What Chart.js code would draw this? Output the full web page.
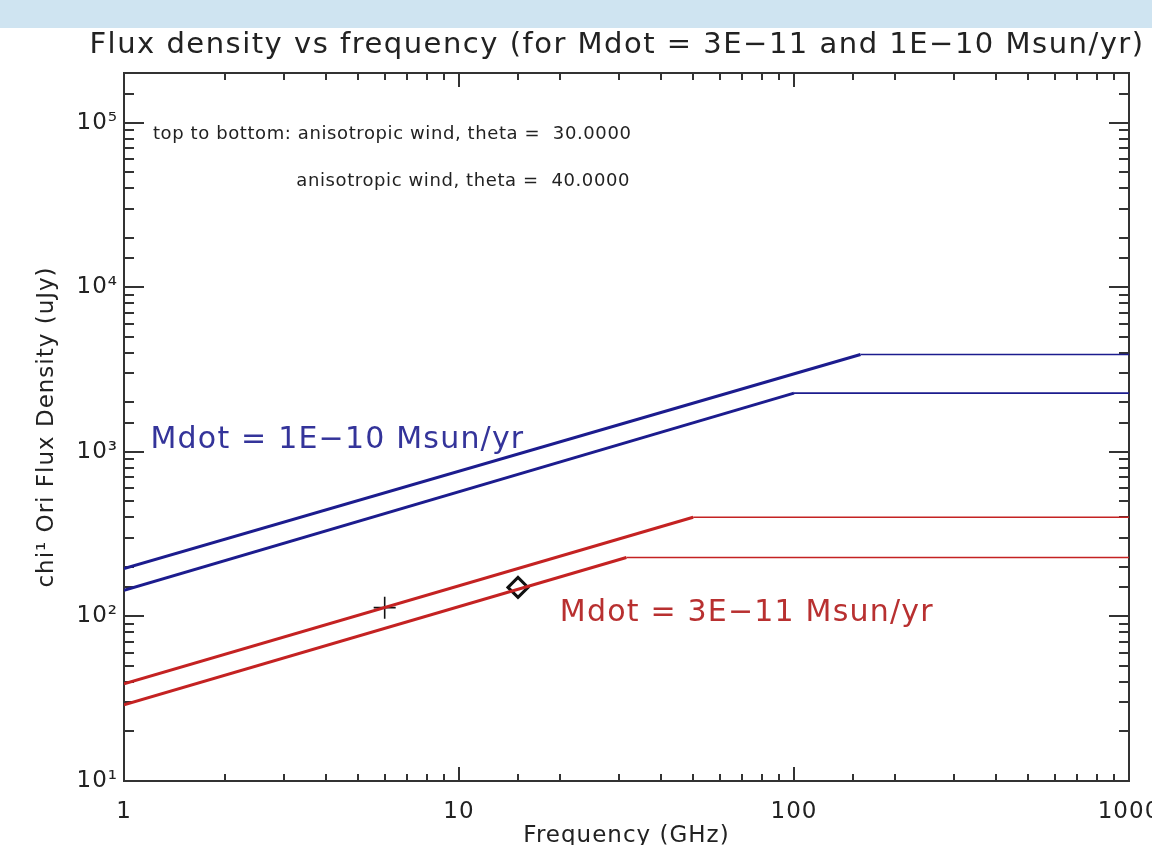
<!DOCTYPE html>
<html>
<head>
<meta charset="utf-8">
<script src="https://cdn.jsdelivr.net/npm/chart.js@4.4.0/dist/chart.umd.min.js"></script>
<style>
  html, body { margin: 0; padding: 0; overflow: hidden; background: #fff; }
  #band { position: absolute; left: 0; top: 0; width: 1152px; height: 28px; background: #cfe4f1; }
  #wrap { position: absolute; left: 0; top: 0; width: 1152px; height: 870px; }
</style>
</head>
<body>
<div id="band"></div>
<div id="wrap"><canvas id="fluxChart"></canvas></div>
<script>
// Mdot = 1E-10, theta 30 / 40
const freqBlue30 = [1, 158, 1000];
const fluxBlue30 = [195, 3900, 3900];
const freqBlue40 = [1, 100, 1000];
const fluxBlue40 = [144, 2270, 2270];
// Mdot = 3E-11, theta 30 / 40
const freqRed30 = [1, 50, 1000];
const fluxRed30 = [39, 400, 400];
const freqRed40 = [1, 31.6, 1000];
const fluxRed40 = [29, 228, 228];
// observed points
const plusPoint = [6, 113];
const diamondPoint = [15, 150];

const xRange = [1, 1000];
const yRange = [10, 200000];

const FONT = '"DejaVu Sans", sans-serif';
const BLUE = '#1c1c8e';
const RED = '#c42222';
const SUP = { '1': '\u00b9', '2': '\u00b2', '3': '\u00b3', '4': '\u2074', '5': '\u2075' };

function isDecade(v) {
  const l = Math.log10(v);
  return Math.abs(l - Math.round(l)) < 1e-9;
}

function pts(xs, ys) {
  return xs.map((x, i) => ({ x: x, y: ys[i] }));
}

function lineSet(xs, ys, color) {
  return {
    data: pts(xs, ys),
    showLine: true,
    borderColor: color,
    borderWidth: 3,
    pointRadius: 0,
    segment: {
      borderWidth: c => c.p0.parsed.y === c.p1.parsed.y ? 1.6 : 3
    }
  };
}

const idlFrame = {
  id: 'idlFrame',
  beforeDraw(chart) {
    // wider spacing, closer to the IDL vector font
    chart.ctx.letterSpacing = '1px';
  },
  beforeDatasetsDraw(chart) {
    const ctx = chart.ctx, a = chart.chartArea;
    const xs = chart.scales.x, ys = chart.scales.y;
    ctx.save();
    ctx.strokeStyle = '#333';
    ctx.lineWidth = 2;
    ctx.strokeRect(a.left, a.top, a.right - a.left, a.bottom - a.top);
    ctx.beginPath();
    xs.ticks.forEach(t => {
      const px = Math.round(xs.getPixelForValue(t.value));
      const len = isDecade(t.value) ? 14 : 7;
      ctx.moveTo(px, a.bottom); ctx.lineTo(px, a.bottom - len);
      ctx.moveTo(px, a.top); ctx.lineTo(px, a.top + len);
    });
    ys.ticks.forEach(t => {
      const py = Math.round(ys.getPixelForValue(t.value));
      const len = isDecade(t.value) ? 20 : 10;
      ctx.moveTo(a.left, py); ctx.lineTo(a.left + len, py);
      ctx.moveTo(a.right, py); ctx.lineTo(a.right - len, py);
    });
    ctx.stroke();
    ctx.restore();
  },
  afterDraw(chart) {
    const ctx = chart.ctx;
    const xs = chart.scales.x, ys = chart.scales.y;
    ctx.save();
    ctx.textBaseline = 'middle';
    ctx.fillStyle = '#222';
    ctx.font = '29px ' + FONT;
    ctx.letterSpacing = '1.5px';
    ctx.textAlign = 'center';
    ctx.fillText('Flux density vs frequency (for Mdot = 3E\u221211 and 1E\u221210 Msun/yr)', 617, 45);

    ctx.font = '18px ' + FONT;
    ctx.letterSpacing = '0.6px';
    ctx.textAlign = 'left';
    ctx.fillText('top to bottom: anisotropic wind, theta =  30.0000',
      xs.getPixelForValue(1.22), ys.getPixelForValue(84500));
    ctx.textAlign = 'right';
    ctx.fillText('anisotropic wind, theta =  40.0000',
      xs.getPixelForValue(32.4), ys.getPixelForValue(43900));

    ctx.font = '30px ' + FONT;
    ctx.letterSpacing = '1.2px';
    ctx.textAlign = 'left';
    ctx.fillStyle = '#34349a';
    ctx.fillText('Mdot = 1E\u221210 Msun/yr', xs.getPixelForValue(1.2), ys.getPixelForValue(1180));
    ctx.fillStyle = '#b83030';
    ctx.fillText('Mdot = 3E\u221211 Msun/yr', xs.getPixelForValue(20), ys.getPixelForValue(104));
    ctx.restore();
    ctx.letterSpacing = '0px';
  }
};

new Chart(document.getElementById('fluxChart'), {
  type: 'scatter',
  plugins: [idlFrame],
  data: {
    datasets: [
      lineSet(freqBlue30, fluxBlue30, BLUE),
      lineSet(freqBlue40, fluxBlue40, BLUE),
      lineSet(freqRed30, fluxRed30, RED),
      lineSet(freqRed40, fluxRed40, RED),
      {
        data: [{ x: plusPoint[0], y: plusPoint[1] }],
        pointStyle: 'cross',
        pointRadius: 11,
        borderColor: '#111',
        borderWidth: 1.6
      },
      {
        data: [{ x: diamondPoint[0], y: diamondPoint[1] }],
        pointStyle: 'rectRot',
        pointRadius: 10,
        borderColor: '#111',
        backgroundColor: '#fff',
        borderWidth: 3
      }
    ]
  },
  options: {
    responsive: true,
    maintainAspectRatio: false,
    animation: false,
    layout: { padding: { top: 73, right: 23, left: 0, bottom: 0 } },
    plugins: { legend: { display: false }, tooltip: { enabled: false } },
    scales: {
      x: {
        type: 'logarithmic',
        min: xRange[0],
        max: xRange[1],
        grid: { display: false, drawTicks: false },
        border: { display: false },
        ticks: {
          autoSkip: false,
          maxRotation: 0,
          padding: 17,
          color: '#222',
          font: { family: FONT, size: 23 },
          callback: v => isDecade(v) ? String(v) : ''
        },
        title: {
          display: true,
          text: 'Frequency (GHz)',
          color: '#222',
          font: { family: FONT, size: 23 },
          padding: { top: 0, bottom: 20 }
        },
        afterFit: s => { s.height = 89; s.paddingLeft = 0; s.paddingRight = 0; }
      },
      y: {
        type: 'logarithmic',
        min: yRange[0],
        max: yRange[1],
        grid: { display: false, drawTicks: false },
        border: { display: false },
        ticks: {
          autoSkip: false,
          padding: 6,
          color: '#222',
          font: { family: FONT, size: 23 },
          callback: v => isDecade(v) ? '10' + SUP[String(Math.round(Math.log10(v)))] : ''
        },
        title: {
          display: true,
          text: 'chi\u00b9 Ori Flux Density (uJy)',
          color: '#222',
          font: { family: FONT, size: 23 },
          padding: { top: 33, bottom: 0 }
        },
        afterFit: s => { s.width = 124; s.paddingTop = 0; s.paddingBottom = 0; }
      }
    }
  }
});
</script>
</body>
</html>
